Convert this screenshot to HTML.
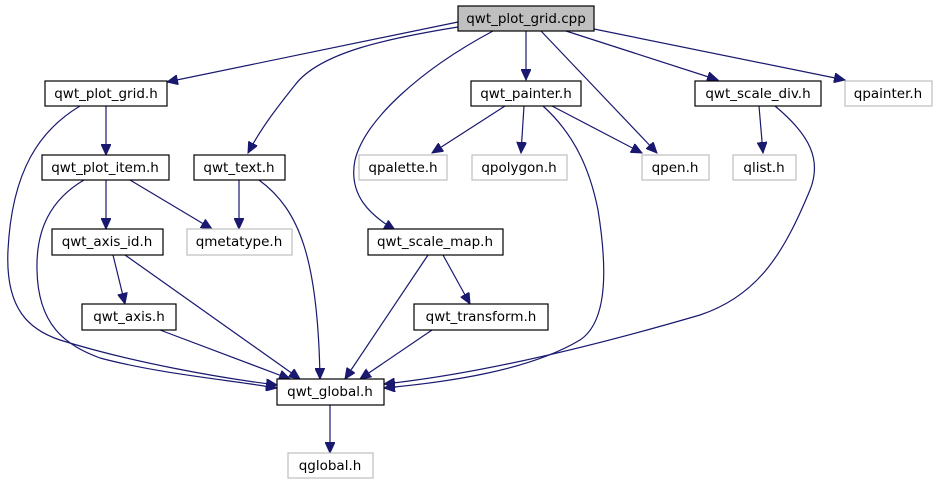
<!DOCTYPE html>
<html><head><meta charset="utf-8"><style>
html,body{margin:0;padding:0;background:#fff;}
svg{display:block;}
text{font-family:"DejaVu Sans","Liberation Sans",sans-serif;font-size:13.5px;fill:#000;text-anchor:middle;}
.n{fill:#fff;stroke:#000;stroke-width:1.2;}
.g{fill:#fff;stroke:#bfbfbf;stroke-width:1.2;}
.e{fill:none;stroke:#191970;stroke-width:1.2;marker-end:url(#a);}
</style></head><body>
<svg width="938" height="485" viewBox="0 0 938 485">
<defs><marker id="a" markerWidth="12" markerHeight="10" refX="11" refY="5" orient="auto" markerUnits="userSpaceOnUse"><path d="M0,0 L11,5 L0,10 Z" fill="#191970" stroke="#191970"/></marker></defs>
<g>
<path class="e" d="M458,22 L167,82"/>
<path class="e" d="M458,27 C390,38 320,52 295,85 C275,110 260,130 248,153"/>
<path class="e" d="M493,31 C420,70 365,120 355,160 C348,195 370,215 395,230"/>
<path class="e" d="M526,31 L526,80"/>
<path class="e" d="M541,31 L657,153"/>
<path class="e" d="M566,31 L718,80"/>
<path class="e" d="M594,29 L845,80"/>
<path class="e" d="M106,106 L106,155"/>
<path class="e" d="M80,106 C40,130 12,170 8,250 C5,310 30,330 60,340 C130,362 220,378 277,385"/>
<path class="e" d="M106,180 L106,229"/>
<path class="e" d="M130,180 L212,229"/>
<path class="e" d="M84,180 C50,200 36,230 37,270 C38,325 65,345 100,358 C160,374 230,380 277,388"/>
<path class="e" d="M239,180 L239,229"/>
<path class="e" d="M259,180 C300,210 318,260 320,379"/>
<path class="e" d="M505,106 L432,153"/>
<path class="e" d="M524,106 L521,153"/>
<path class="e" d="M552,106 L642,153"/>
<path class="e" d="M543,106 C575,135 590,170 598,210 C606,260 610,320 580,340 C530,370 450,382 384,388"/>
<path class="e" d="M759,106 L763,153"/>
<path class="e" d="M775,106 C810,135 822,160 810,190 C785,250 760,295 700,315 C580,350 470,375 384,384"/>
<path class="e" d="M113,255 L125,304"/>
<path class="e" d="M125,255 L300,379"/>
<path class="e" d="M428,255 L345,379"/>
<path class="e" d="M443,255 L470,304"/>
<path class="e" d="M160,330 L290,379"/>
<path class="e" d="M432,330 L360,379"/>
<path class="e" d="M330,405 L330,453"/>
</g>
<rect x="458" y="6" width="136" height="25" fill="#bfbfbf" stroke="#000" stroke-width="1.2"/><text x="526" y="23">qwt_plot_grid.cpp</text>
<rect class="n" x="45" y="81" width="122" height="25"/><text x="106" y="98">qwt_plot_grid.h</text>
<rect class="n" x="471" y="81" width="110" height="25"/><text x="526" y="98">qwt_painter.h</text>
<rect class="n" x="695" y="81" width="126" height="25"/><text x="758" y="98">qwt_scale_div.h</text>
<rect class="g" x="845" y="81" width="87" height="25"/><text x="888" y="98">qpainter.h</text>
<rect class="n" x="42" y="155" width="127" height="25"/><text x="105" y="172">qwt_plot_item.h</text>
<rect class="n" x="194" y="155" width="91" height="25"/><text x="239" y="172">qwt_text.h</text>
<rect class="g" x="359" y="155" width="88" height="25"/><text x="403" y="172">qpalette.h</text>
<rect class="g" x="472" y="155" width="95" height="25"/><text x="519" y="172">qpolygon.h</text>
<rect class="g" x="642" y="155" width="67" height="25"/><text x="675" y="172">qpen.h</text>
<rect class="g" x="733" y="155" width="63" height="25"/><text x="764" y="172">qlist.h</text>
<rect class="n" x="52" y="229" width="111" height="26"/><text x="107" y="246">qwt_axis_id.h</text>
<rect class="g" x="187" y="229" width="105" height="26"/><text x="239" y="246">qmetatype.h</text>
<rect class="n" x="368" y="229" width="135" height="26"/><text x="435" y="246">qwt_scale_map.h</text>
<rect class="n" x="82" y="304" width="94" height="26"/><text x="129" y="321">qwt_axis.h</text>
<rect class="n" x="414" y="304" width="134" height="26"/><text x="481" y="321">qwt_transform.h</text>
<rect class="n" x="277" y="379" width="107" height="26"/><text x="330" y="396">qwt_global.h</text>
<rect class="g" x="288" y="453" width="85" height="25"/><text x="330" y="470">qglobal.h</text>
</svg>
</body></html>
